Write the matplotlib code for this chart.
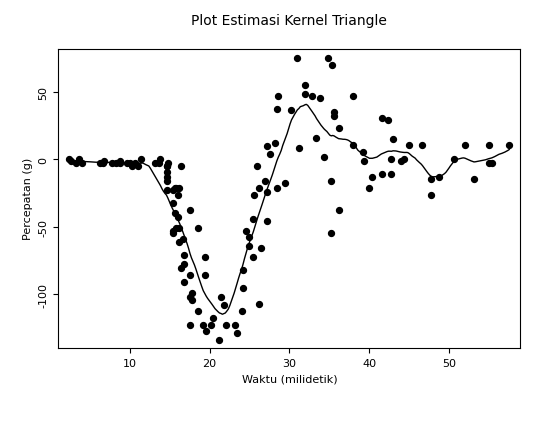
import numpy as np
import matplotlib.pyplot as plt

times = [2.4,2.6,3.2,3.6,4.0,6.2,6.6,6.8,7.8,8.2,8.8,8.8,9.6,10.0,10.2,10.6,11.0,11.4,13.2,13.6,13.8,
         14.6,14.6,14.6,14.6,14.6,14.6,14.8,15.4,15.4,15.4,15.4,15.6,15.6,15.8,15.8,16.0,16.0,16.2,16.2,
         16.2,16.4,16.4,16.6,16.8,16.8,16.8,17.6,17.6,17.6,17.6,17.8,17.8,18.6,18.6,19.2,19.4,19.4,19.6,
         20.2,20.4,21.2,21.4,21.8,22.0,23.2,23.4,24.0,24.2,24.2,24.6,25.0,25.0,25.4,25.4,25.6,26.0,26.2,
         26.2,26.4,27.0,27.2,27.2,27.2,27.6,28.2,28.4,28.4,28.6,29.4,30.2,31.0,31.2,32.0,32.0,32.8,33.4,
         33.8,34.4,34.8,35.2,35.2,35.4,35.6,35.6,36.2,36.2,38.0,38.0,39.2,39.4,40.0,40.4,41.6,41.6,42.4,
         42.8,42.8,43.0,44.0,44.4,45.0,46.6,47.8,47.8,48.8,50.6,52.0,53.2,55.0,55.0,55.4,57.6]
accel = [0.0,-1.3,-2.7,0.0,-2.7,-2.7,-2.7,-1.3,-2.7,-2.7,-1.3,-2.7,-2.7,-2.7,-5.4,-2.7,-5.4,0.0,-2.7,-2.7,0.0,
         -13.3,-5.4,-5.4,-9.3,-16.0,-22.8,-2.7,-22.8,-32.1,-53.5,-54.9,-40.2,-21.5,-21.5,-50.8,-42.9,-26.8,
         -21.5,-50.8,-61.7,-5.4,-80.4,-59.0,-71.0,-91.1,-77.7,-37.5,-85.6,-123.1,-101.9,-99.1,-104.4,-112.5,
         -50.8,-123.1,-85.6,-72.3,-127.2,-123.1,-117.9,-134.0,-101.9,-108.4,-123.1,-123.1,-128.5,-112.5,-95.1,
         -81.8,-53.5,-64.4,-57.6,-72.3,-44.3,-26.8,-5.4,-107.1,-21.5,-65.6,-16.0,-45.6,-24.2,9.5,4.0,12.0,
         -21.5,37.5,46.9,-17.4,36.2,75.0,8.1,54.9,48.2,46.9,16.0,45.6,1.3,75.0,-16.0,-54.9,69.6,34.8,32.1,
         -37.5,22.8,46.9,10.7,5.4,-1.3,-21.5,-13.3,30.8,-10.7,29.4,0.0,-10.7,14.7,-1.3,0.0,10.7,10.7,-26.8,
         -14.7,-13.3,0.0,10.7,-14.7,-2.7,10.7,-2.7,10.7]

x = np.array(times)
y = np.array(accel)

# Nadaraya-Watson with triangle kernel
h = 3.0
grid = np.linspace(x.min(), x.max(), 300)
fit = []
for g in grid:
    u = np.abs(x - g) / h
    w = np.clip(1 - u, 0, None)
    fit.append(np.sum(w * y) / np.sum(w))

fig = plt.figure(figsize=(5.49, 4.31), dpi=100)
ax = fig.add_axes([0.106, 0.19, 0.842, 0.695])
ax.scatter(x, y, s=18, color='black', zorder=3)
ax.plot(grid, fit, color='black', lw=1)
ax.set_xlim(1.0, 59.0)
ax.set_ylim(-140, 82)
ax.set_xticks([10, 20, 30, 40, 50])
ax.set_yticks([-100, -50, 0, 50])
ax.set_yticklabels(['-100', '-50', '0', '50'], rotation=90, va='center')
ax.tick_params(labelsize=8)
ax.set_xlabel('Waktu (milidetik)', fontsize=8)
ax.set_ylabel('Percepatan (g)', fontsize=8)
ax.set_title('Plot Estimasi Kernel Triangle', fontsize=10, pad=18)
fig.savefig('out.png')
